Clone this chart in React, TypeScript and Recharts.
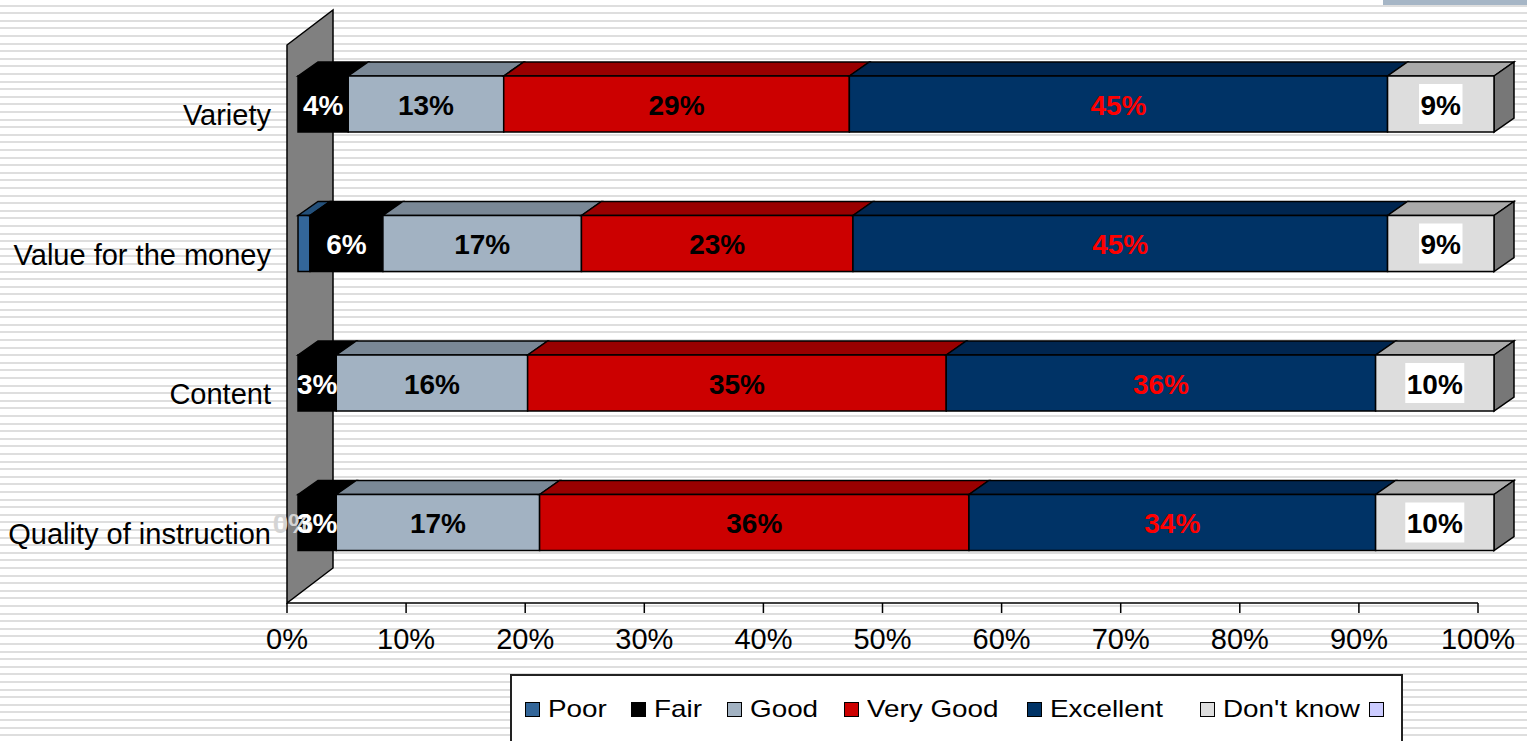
import { Bar, BarChart, LabelList, XAxis, YAxis } from "recharts";

const categories = ["Variety", "Value for the money", "Content", "Quality of instruction"];
const poor = [0, 1, 0, 0];
const fair = [4.2, 6.1, 3.2, 3.2];
const good = [13, 16.6, 16, 17];
const veryGood = [28.9, 22.7, 35, 35.9];
const excellent = [45, 44.7, 35.9, 34];
const dontKnow = [8.9, 8.9, 9.9, 9.9];
const poorLabels = [null, null, null, "0%"];
const xTicks = [0, 10, 20, 30, 40, 50, 60, 70, 80, 90, 100];
const rowEdges = [0, 1, 2, 3, 4];

const data = categories.map((name, i) => ({
  name,
  poor: poor[i],
  fair: fair[i],
  good: good[i],
  veryGood: veryGood[i],
  excellent: excellent[i],
  dontKnow: dontKnow[i],
  poorLabel: poorLabels[i],
}));

const series = [
  { key: "poor", name: "Poor", front: "#336699", top: "#24507a", label: "#d4d4d4", labelKey: "poorLabel", shift: -5 },
  { key: "fair", name: "Fair", front: "#000000", top: "#000000", label: "#ffffff" },
  { key: "good", name: "Good", front: "#a2b2c2", top: "#7a8896", label: "#000000" },
  { key: "veryGood", name: "Very Good", front: "#cc0000", top: "#990000", label: "#000000" },
  { key: "excellent", name: "Excellent", front: "#003366", top: "#002650", label: "#ff0000" },
  { key: "dontKnow", name: "Don't know", front: "#dddddd", top: "#aaaaaa", label: "#000000", boxed: true },
];

const legendItems = [...series.map((s) => ({ name: s.name, color: s.front })), { name: "", color: "#ccccff" }];
const legendX = [525, 631, 727, 844, 1027, 1200, 1369];

// 3d look: bars sit a bit behind the floor edge
const PLOT_LEFT = 287;
const FRONT_LEFT = 298;
const K = 1196 / 1191;
const DX = 20;
const DY = 14;
const LIFT = 11;
const FONT = "'Liberation Sans', Arial, sans-serif";

const make3D = (s: any, last: boolean) => (props: any) => {
  const { x, y, width, height } = props;
  if (!width || width <= 0) return <g />;
  const fx = FRONT_LEFT + (x - PLOT_LEFT) * K;
  const fw = width * K;
  const fy = y - LIFT;
  return (
    <g>
      <polygon
        points={`${fx},${fy} ${fx + DX},${fy - DY} ${fx + fw + DX},${fy - DY} ${fx + fw},${fy}`}
        fill={s.top}
        stroke="#000"
        strokeWidth={1.5}
      />
      {last && (
        <polygon
          points={`${fx + fw},${fy} ${fx + fw + DX},${fy - DY} ${fx + fw + DX},${fy + height - DY} ${fx + fw},${fy + height}`}
          fill="#777777"
          stroke="#000"
          strokeWidth={1.5}
        />
      )}
      <rect x={fx} y={fy} width={fw} height={height} fill={s.front} stroke="#000" strokeWidth={1.5} />
    </g>
  );
};

const textWidth = (t: string) =>
  t.split("").reduce((w, c) => w + (c === "%" ? 0.889 : 0.556), 0) * 28;

const makeLabel = (s: any) => (props: any) => {
  const { value } = props;
  if (value === null || value === undefined || value === "") return null;
  const vb = props.viewBox && props.viewBox.width !== undefined ? props.viewBox : props;
  const { x, y, width, height } = vb;
  const cx = FRONT_LEFT + (x + width / 2 - PLOT_LEFT) * K + (s.shift || 0);
  const cy = y + height / 2 - LIFT;
  const text = typeof value === "number" ? `${Math.round(value)}%` : String(value);
  const w = textWidth(text) + 3;
  return (
    <g>
      {s.boxed && <rect x={cx - w / 2} y={cy - 20} width={w} height={40} fill="#ffffff" />}
      <text
        x={cx}
        y={cy + 1}
        textAnchor="middle"
        dominantBaseline="central"
        fontSize={28}
        fontWeight="bold"
        fontFamily={FONT}
        fill={s.label}
      >
        {text}
      </text>
    </g>
  );
};

const App = () => {
  return (
    <div
      style={{
        position: "absolute",
        left: 0,
        top: 0,
        width: 1527,
        height: 741,
        overflow: "hidden",
        fontFamily: FONT,
        background:
          "repeating-linear-gradient(to bottom, #ffffff 0px, #ffffff 4.6px, #dedede 4.6px, #dedede 6.6px, #ffffff 6.6px, #ffffff 7.6px)",
      }}
    >
      <div style={{ position: "absolute", left: 1383, top: 0, width: 144, height: 5, background: "#a6b6c6" }} />
      <svg style={{ position: "absolute", left: 0, top: 0 }} width={1527} height={741}>
        <polygon points="287,45 333,10 333,568 287,603" fill="#808080" stroke="#000" strokeWidth={1.5} />
      </svg>
      <div style={{ position: "absolute", left: 0, top: 0 }}>
        <BarChart
          width={1527}
          height={741}
          data={data}
          layout="vertical"
          margin={{ top: 45, right: 49, left: 0, bottom: 78 }}
          barSize={56}
        >
          <XAxis
            type="number"
            domain={[0, 100]}
            ticks={xTicks}
            tickFormatter={(v) => `${v}%`}
            tick={{ fontSize: 29, fill: "#000" }}
            tickSize={10}
            tickMargin={15}
            axisLine={{ stroke: "#000", strokeWidth: 1.5 }}
            tickLine={{ stroke: "#000", strokeWidth: 1.5 }}
            height={60}
            interval={0}
          />
          <YAxis
            yAxisId="edge"
            type="number"
            domain={[0, 4]}
            ticks={rowEdges}
            tickFormatter={() => ""}
            width={0}
            tickSize={12}
            axisLine={{ stroke: "#000", strokeWidth: 1.5 }}
            tickLine={{ stroke: "#000", strokeWidth: 1.5 }}
            interval={0}
          />
          <YAxis
            yAxisId="cat"
            type="category"
            dataKey="name"
            width={287}
            tickLine={false}
            axisLine={false}
            tickSize={0}
            tickMargin={16}
            tick={{ fontSize: 29, fill: "#000" }}
            interval={0}
          />
          {series.map((s, i) => (
            <Bar
              key={s.key}
              dataKey={s.key}
              name={s.name}
              stackId="a"
              yAxisId="cat"
              fill={s.front}
              shape={make3D(s, i === series.length - 1)}
              isAnimationActive={false}
            >
              <LabelList dataKey={s.labelKey || s.key} content={makeLabel(s)} />
            </Bar>
          ))}
        </BarChart>
      </div>
      <div
        style={{
          position: "absolute",
          left: 510,
          top: 674,
          width: 889,
          height: 90,
          background: "#fff",
          border: "2px solid #222",
        }}
      />
      {legendItems.map((item, i) => (
        <div key={i}>
          <div
            style={{
              position: "absolute",
              left: legendX[i],
              top: 702,
              width: 13,
              height: 13,
              background: item.color,
              border: "1px solid #000",
            }}
          />
          {item.name && (
            <div
              style={{
                position: "absolute",
                left: legendX[i] + 23,
                top: 694,
                fontSize: 24,
                lineHeight: "30px",
                color: "#000",
                whiteSpace: "nowrap",
                transform: "scaleX(1.16)",
                transformOrigin: "left center",
              }}
            >
              {item.name}
            </div>
          )}
        </div>
      ))}
    </div>
  );
};

export default App;
